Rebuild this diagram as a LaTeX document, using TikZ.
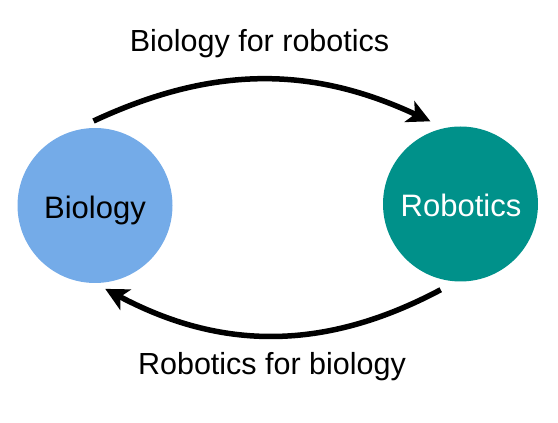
\documentclass[tikz,border=0pt]{standalone}
\usepackage{fontspec}
\setmainfont{Liberation Sans}
\usetikzlibrary{arrows.meta,calc}
\definecolor{bioblue}{RGB}{116,171,232}
\definecolor{robteal}{RGB}{0,145,138}
\tikzset{
  blob/.style={circle, minimum size=155pt, inner sep=0pt, outer sep=0pt},
  lbl/.style={font=\fontsize{30.5}{36}\selectfont, anchor=base, inner sep=0pt},
  clbl/.style={font=\fontsize{31}{36}\selectfont, anchor=base, inner sep=0pt},
  arr/.style={line width=5.5pt, -{Stealth[length=23pt,width=23pt,inset=6pt]}}
}
\begin{document}
\begin{tikzpicture}[x=1pt,y=1pt]
  \useasboundingbox (0,0) rectangle (558,423);
  \node[blob, fill=bioblue] (bio) at (95,217.5) {};
  \node[blob, fill=robteal] (rob) at (460.5,219) {};
  \node[clbl] (biot) at (95,204) {Biology};
  \node[clbl, text=white] (robt) at (461,206) {Robotics};
  \node[lbl] (top) at (259.5,371) {Biology for robotics};
  \node[lbl] (bot) at (272,48) {Robotics for biology};
  \draw[arr] ([shift={(91:84.5)}]bio.center) to[out=25,in=155] ([shift={(110:88)}]rob.center);
  \draw[arr] ([shift={(257:88)}]rob.center) to[out=208,in=332] ([shift={(277:84)}]bio.center);
\end{tikzpicture}
\end{document}
